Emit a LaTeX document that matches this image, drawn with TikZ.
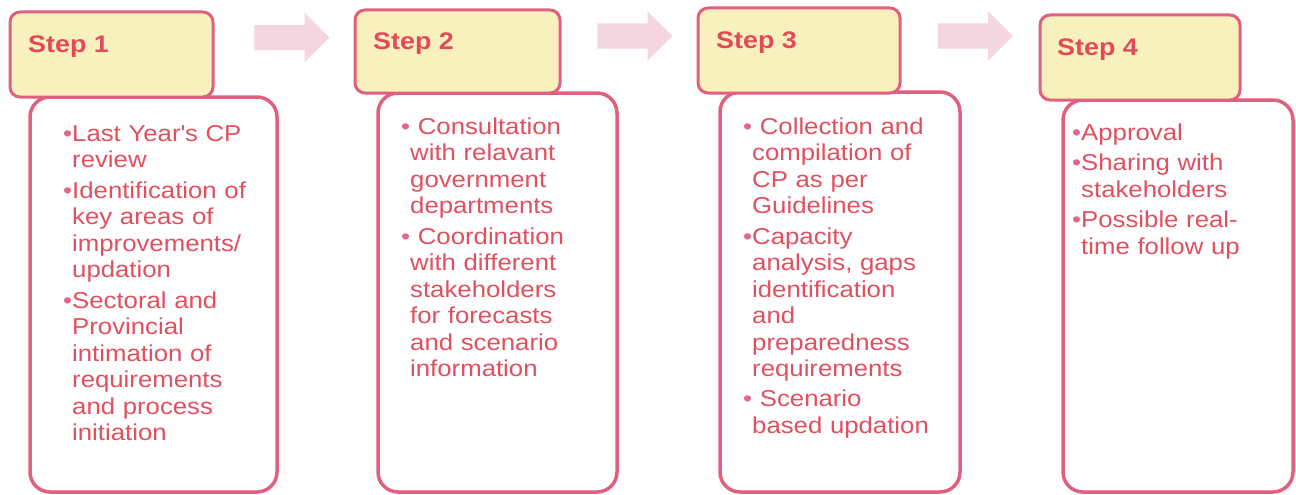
\documentclass[tikz,border=0pt]{standalone}
\usepackage{fontspec}
\setmainfont[FakeStretch=1.12]{Liberation Sans}
\usepackage{xcolor}
\usepackage{tikz}
\usetikzlibrary{shapes.arrows}

\definecolor{framepink}{HTML}{E2607F}
\definecolor{headfill}{HTML}{F8F1BE}
\definecolor{arrowpink}{HTML}{F3D6E0}
\definecolor{stepred}{HTML}{E24A58}
\definecolor{itemred}{HTML}{E0505F}
\definecolor{dotpink}{HTML}{E0668A}

\tikzset{
  headbox/.style={draw=framepink, line width=3pt, rounded corners=10pt, fill=headfill, inner sep=0pt},
  bodybox/.style={draw=framepink, line width=3.5pt, rounded corners=20pt, fill=white, inner sep=0pt},
  steplabel/.style={anchor=base west, inner sep=0pt, text=stepred, font=\fontsize{24}{28}\selectfont\bfseries},
  itemtext/.style={anchor=base west, inner sep=0pt, text width=230pt, align=left, text=itemred, font=\fontsize{23}{26.5}\selectfont},
  steparrow/.style={single arrow, draw=none, fill=arrowpink, inner xsep=0pt, inner ysep=12.5pt, minimum height=75pt, single arrow head extend=12pt}
}
\newcommand{\itm}{\leavevmode\llap{\textcolor{dotpink}{\textbullet}}}

\begin{document}
\begin{tikzpicture}[x=1pt, y=-1pt]
\useasboundingbox (0,0) rectangle (1296,495);

% bodies first, the headers sit on their top edge
\node[bodybox, minimum width=247pt, minimum height=395pt] (body1) at (153.5,294.5) {};
\node[bodybox, minimum width=239pt, minimum height=399pt] (body2) at (497.5,292.5) {};
\node[bodybox, minimum width=240pt, minimum height=400pt] (body3) at (840,292) {};
\node[bodybox, minimum width=230pt, minimum height=392pt] (body4) at (1178,296) {};

\node[headbox, minimum width=203pt, minimum height=85pt] (head1) at (111.5,54.5) {};
\node[headbox, minimum width=205pt, minimum height=83pt] (head2) at (457.5,51.5) {};
\node[headbox, minimum width=202pt, minimum height=85pt] (head3) at (799,50.5) {};
\node[headbox, minimum width=200pt, minimum height=85pt] (head4) at (1140,57.5) {};

\node[steplabel] (step1) at (28,53) {Step 1};
\node[steplabel] (step2) at (373,50) {Step 2};
\node[steplabel] (step3) at (716,49) {Step 3};
\node[steplabel] (step4) at (1057,56) {Step 4};

% block arrows between the headers
\foreach \x/\y [count=\i] in {285.5/37.5, 628.5/36, 969/36}
  \node[steparrow] (arrow\i) at (\x,\y) {};

\node[itemtext] (items1) at (72,141) {%
  \itm Last Year\textquotesingle s CP\\
  review\\[4pt]
  \itm Identification of\\
  key areas of\\
  improvements/\\
  updation\\[4pt]
  \itm Sectoral and\\
  Provincial\\
  intimation of\\
  requirements\\
  and process\\
  initiation};

\node[itemtext] (items2) at (410,134) {%
  \itm\ Consultation\\
  with relavant\\
  government\\
  departments\\[4pt]
  \itm\ Coordination\\
  with different\\
  stakeholders\\
  for forecasts\\
  and scenario\\
  information};

\node[itemtext] (items3) at (752,134) {%
  \itm\ Collection and\\
  compilation of\\
  CP as per\\
  Guidelines\\[4pt]
  \itm Capacity\\
  analysis, gaps\\
  identification\\
  and\\
  preparedness\\
  requirements\\[4pt]
  \itm\ Scenario\\
  based updation};

\node[itemtext] (items4) at (1081,140) {%
  \itm Approval\\[4pt]
  \itm Sharing with\\
  stakeholders\\[4pt]
  \itm Possible real-\\
  time follow up};
\end{tikzpicture}
\end{document}
